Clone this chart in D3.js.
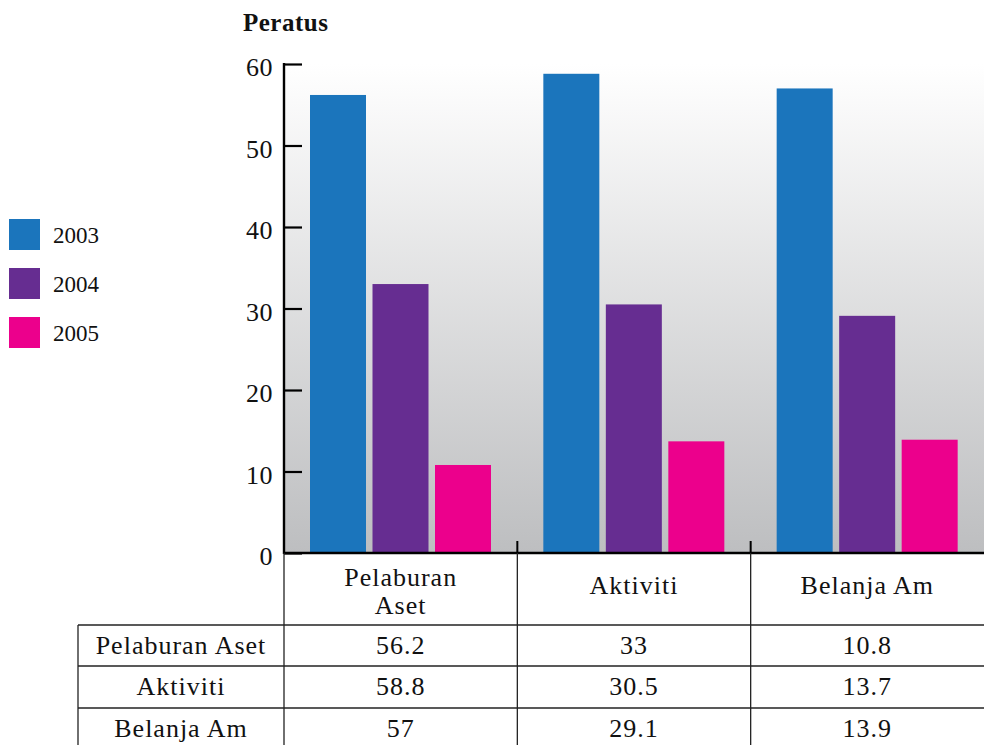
<!DOCTYPE html>
<html><head><meta charset="utf-8">
<script src="https://cdn.jsdelivr.net/npm/d3@7"></script>
<style>
html,body{margin:0;padding:0;background:#fff;}
svg{display:block;}
text{font-family:"Liberation Serif","Times New Roman",serif;fill:#111;}
</style></head>
<body><svg id="chart" width="984" height="745"></svg>
<script>
const categories = ["Pelaburan Aset", "Aktiviti", "Belanja Am"];
const categoryLines = [["Pelaburan", "Aset"], ["Aktiviti"], ["Belanja Am"]];
const years = ["2003", "2004", "2005"];
const values2003 = [56.2, 58.8, 57];
const values2004 = [33, 30.5, 29.1];
const values2005 = [10.8, 13.7, 13.9];
const yTicks = [0, 10, 20, 30, 40, 50, 60];
const colors = ["#1b75bc", "#662d91", "#ec008c"];
const yLabel = "Peratus";

(function () {
const seriesValues = [values2003, values2004, values2005];
const tableRows = categories.map((c, i) => ({label: c, vals: seriesValues.map(s => s[i])}));

const svg = d3.select("#chart");
const pLeft = 284, pRight = 984, pTop = 64, pBase = 553;

const x = d3.scaleBand().domain(categories).range([pLeft, pRight]).padding(0);
const xi = d3.scaleBand().domain(years).range([26, 207]).paddingInner(0.104);
const y = d3.scaleLinear().domain([0, 60]).range([pBase, pTop]);

const defs = svg.append("defs");
const g = defs.append("linearGradient").attr("id", "bg").attr("x1", 0).attr("x2", 0).attr("y1", 0).attr("y2", 1);
g.append("stop").attr("offset", "0%").attr("stop-color", "#ffffff");
g.append("stop").attr("offset", "100%").attr("stop-color", "#bdbec0");
svg.append("rect").attr("x", pLeft).attr("y", pTop).attr("width", pRight - pLeft).attr("height", pBase - pTop).attr("fill", "url(#bg)");

categories.forEach((c, ci) => {
  years.forEach((yr, si) => {
    const v = seriesValues[si][ci];
    svg.append("rect")
      .attr("x", x(c) + xi(yr))
      .attr("y", y(v))
      .attr("width", xi.bandwidth())
      .attr("height", y(0) - y(v))
      .attr("fill", colors[si]);
  });
});

const yAxis = d3.axisRight(y).tickValues(yTicks).tickSize(18).tickFormat("");
const ya = svg.append("g").attr("transform", `translate(${pLeft},0)`).call(yAxis);
ya.select(".domain").remove();
ya.selectAll("line").attr("stroke", "#000").attr("stroke-width", 2.2);
svg.append("line").attr("x1", pLeft).attr("x2", pLeft).attr("y1", pTop - 1).attr("y2", pBase + 1).attr("stroke", "#000").attr("stroke-width", 2.4);
svg.selectAll(".ylab").data(yTicks).enter().append("text")
  .attr("x", 273).attr("y", d => y(d) + 12)
  .attr("text-anchor", "end").attr("font-size", 26).attr("letter-spacing", 0.5).text(d => d);

svg.append("line").attr("x1", pLeft).attr("x2", pRight).attr("y1", pBase).attr("y2", pBase).attr("stroke", "#000").attr("stroke-width", 2.6);
categories.slice(1).forEach(c => {
  svg.append("line").attr("x1", x(c)).attr("x2", x(c)).attr("y1", pBase - 12).attr("y2", pBase).attr("stroke", "#000").attr("stroke-width", 2);
});

svg.append("text").attr("x", 243).attr("y", 31).attr("font-weight", "bold").attr("font-size", 25).attr("letter-spacing", 0.5).text(yLabel);

years.forEach((yr, i) => {
  svg.append("rect").attr("x", 9).attr("y", 219 + i * 49).attr("width", 31).attr("height", 31).attr("fill", colors[i]);
  svg.append("text").attr("x", 53).attr("y", 243 + i * 49).attr("font-size", 23).text(yr);
});

const tl = 78, rowY = [625, 666, 708, 749];
const lineCol = "#222";
[pLeft, x(categories[1]), x(categories[2])].forEach(vx => {
  svg.append("line").attr("x1", vx).attr("x2", vx).attr("y1", pBase).attr("y2", 745).attr("stroke", lineCol).attr("stroke-width", 1.3);
});
svg.append("line").attr("x1", tl).attr("x2", tl).attr("y1", rowY[0]).attr("y2", 745).attr("stroke", lineCol).attr("stroke-width", 1.3);
rowY.forEach(ry => {
  svg.append("line").attr("x1", tl).attr("x2", pRight).attr("y1", ry).attr("y2", ry).attr("stroke", lineCol).attr("stroke-width", 1.3);
});
const tf = 26, ls = 1;
categories.forEach((c, ci) => {
  const lines = categoryLines[ci];
  const cx = x(c) + x.bandwidth() / 2;
  lines.forEach((ln, li) => {
    const by = lines.length === 1 ? 594 : 586 + li * 28;
    svg.append("text").attr("x", cx).attr("y", by).attr("text-anchor", "middle").attr("font-size", tf).attr("letter-spacing", ls).text(ln);
  });
});
tableRows.forEach((r, ri) => {
  const by = rowY[ri] + 29;
  svg.append("text").attr("x", (tl + pLeft) / 2).attr("y", by).attr("text-anchor", "middle").attr("font-size", tf).attr("letter-spacing", ls).text(r.label);
  r.vals.forEach((v, vi) => {
    svg.append("text").attr("x", x(categories[vi]) + x.bandwidth() / 2).attr("y", by).attr("text-anchor", "middle").attr("font-size", tf).attr("letter-spacing", ls).text(v);
  });
});
})();
</script></body></html>
